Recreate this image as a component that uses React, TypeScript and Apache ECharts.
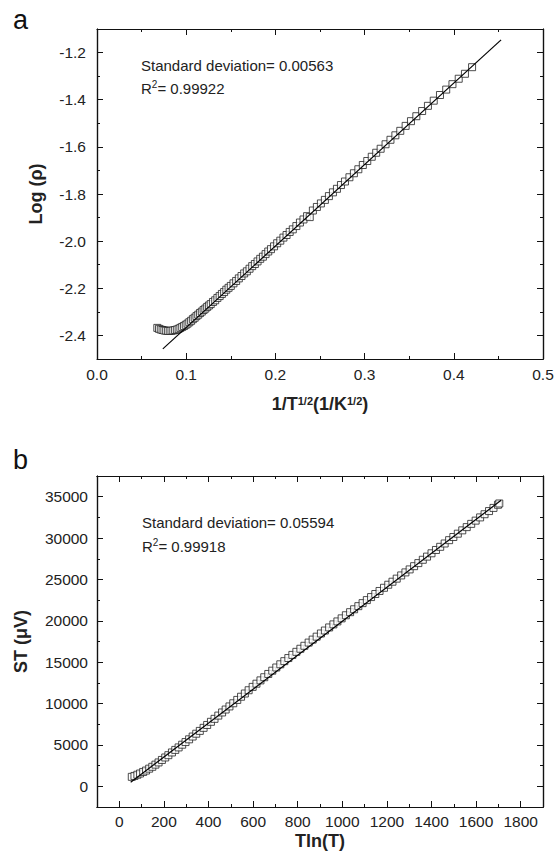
import React, { useEffect, useRef } from "react";
import * as echarts from "echarts";

// ---------- data ----------
const TOP_X = [
  0.0676, 0.0695, 0.0715, 0.0735, 0.0755, 0.0775, 0.0795, 0.0815, 0.0835, 0.0855,
  0.0875, 0.0895, 0.0915, 0.0935, 0.0955, 0.0975, 0.0995, 0.1015, 0.1035, 0.1055,
  0.1075, 0.1095, 0.1115, 0.1135, 0.1155, 0.1175, 0.1195, 0.1215, 0.1235, 0.1255,
  0.1275, 0.13, 0.1325, 0.135, 0.1375, 0.14, 0.1425, 0.145, 0.1475, 0.15,
  0.153, 0.156, 0.159, 0.162, 0.165, 0.168, 0.171, 0.174, 0.177, 0.18,
  0.183, 0.186, 0.189, 0.192, 0.195, 0.1985, 0.202, 0.2055, 0.209, 0.2125,
  0.216, 0.2195, 0.2235, 0.2275, 0.2315, 0.2355, 0.2385, 0.242, 0.2465, 0.251,
  0.2555, 0.26, 0.2645, 0.269, 0.2735, 0.278, 0.283, 0.288, 0.293, 0.298,
  0.303, 0.308, 0.313, 0.318, 0.3235, 0.329, 0.3345, 0.34, 0.346, 0.352,
  0.358, 0.3645, 0.371, 0.3775, 0.3845, 0.3915, 0.3985, 0.4055, 0.4125, 0.4205,
];
const TOP_Y = [
  -2.368, -2.372, -2.375, -2.377, -2.379, -2.38, -2.381, -2.381, -2.38, -2.379,
  -2.377, -2.375, -2.372, -2.368, -2.364, -2.36, -2.355, -2.35, -2.344, -2.338,
  -2.331, -2.325, -2.318, -2.312, -2.305, -2.299, -2.292, -2.286, -2.279, -2.273,
  -2.267, -2.258, -2.251, -2.241, -2.233, -2.224, -2.216, -2.206, -2.198, -2.19,
  -2.179, -2.169, -2.158, -2.148, -2.137, -2.128, -2.117, -2.106, -2.097, -2.086,
  -2.075, -2.066, -2.055, -2.044, -2.034, -2.022, -2.009, -1.998, -1.985, -1.974,
  -1.961, -1.95, -1.936, -1.921, -1.908, -1.894, -1.898, -1.87, -1.855, -1.84,
  -1.825, -1.809, -1.793, -1.778, -1.762, -1.747, -1.729, -1.712, -1.695, -1.677,
  -1.66, -1.642, -1.625, -1.608, -1.589, -1.57, -1.551, -1.532, -1.511, -1.491,
  -1.47, -1.448, -1.426, -1.404, -1.38, -1.357, -1.334, -1.311, -1.29, -1.262,
];
const TOP_FIT_X = [0.0738, 0.453];
const TOP_FIT_Y = [-2.457, -1.146];

const BOT_X = [
  56, 68, 81, 93, 107, 120, 134, 148, 162, 176,
  191, 206, 220, 236, 251, 266, 282, 297, 313, 329,
  345, 361, 378, 394, 411, 427, 444, 461, 477, 494,
  511, 529, 546, 563, 580, 598, 615, 633, 650, 668,
  686, 704, 722, 740, 758, 776, 794, 812, 830, 849,
  867, 885, 904, 922, 941, 960, 978, 997, 1016, 1035,
  1053, 1072, 1091, 1110, 1129, 1148, 1167, 1187, 1206, 1225,
  1244, 1264, 1283, 1302, 1322, 1341, 1361, 1380, 1400, 1420,
  1439, 1459, 1479, 1498, 1518, 1538, 1558, 1578, 1598, 1618,
  1638, 1658, 1678, 1698, 1704,
];
const BOT_Y = [
  1146, 1253, 1401, 1548, 1736, 1904, 2132, 2360, 2619, 2887,
  3186, 3484, 3763, 4092, 4401, 4700, 5029, 5348, 5678, 6017,
  6357, 6696, 7066, 7415, 7795, 8155, 8545, 8925, 9279, 9654,
  10034, 10440, 10825, 11215, 11610, 12016, 12401, 12802, 13182, 13577,
  13973, 14358, 14744, 15124, 15500, 15881, 16251, 16622, 16983, 17369,
  17730, 18085, 18467, 18827, 19198, 19569, 19925, 20296, 20672, 21043,
  21394, 21770, 22136, 22503, 22869, 23240, 23606, 23993, 24359, 24726,
  25097, 25484, 25850, 26211, 26603, 26974, 27376, 27757, 28159, 28561,
  28942, 29344, 29746, 30127, 30529, 30931, 31323, 31715, 32106, 32498,
  32880, 33262, 33644, 34025, 34180,
];
const BOT_FIT_X = [51, 1712];
const BOT_FIT_Y = [483, 34560];

// tick values
const TOP_Y_MAJOR = [-2.4, -2.2, -2.0, -1.8, -1.6, -1.4, -1.2];
const TOP_Y_MINOR = [-2.5, -2.3, -2.1, -1.9, -1.7, -1.5, -1.3, -1.1];
const BOT_X_MAJOR = [0, 200, 400, 600, 800, 1000, 1200, 1400, 1600, 1800];
const BOT_X_MINOR = [-100, 100, 300, 500, 700, 900, 1100, 1300, 1500, 1700, 1900];
const BOT_Y_MAJOR = [0, 5000, 10000, 15000, 20000, 25000, 30000, 35000];
const BOT_Y_MINOR = [-2500, 2500, 7500, 12500, 17500, 22500, 27500, 32500, 37500];

const TOP_SD = "Standard deviation= 0.00563";
const TOP_R2 = "= 0.99922";
const BOT_SD = "Standard deviation= 0.05594";
const BOT_R2 = "= 0.99918";

// ---------- styling ----------
const FONT = "'Liberation Sans', Arial, Helvetica, sans-serif";
const TEXT = "#222";
const AXIS = "#111";
const MAJOR_LEN = 6;
const MINOR_LEN = 3;
const LABEL_SIZE = 15.5;

function axis(o: any) {
  return {
    type: "value",
    gridIndex: o.grid,
    position: o.position,
    min: o.min,
    max: o.max,
    interval: o.interval,
    axisLine: { show: true, onZero: false, lineStyle: { color: AXIS, width: 1.2 } },
    axisTick: {
      show: true,
      inside: true,
      length: o.len ?? MAJOR_LEN,
      customValues: o.ticks,
      lineStyle: { color: AXIS, width: 1 },
    },
    minorTick: o.minor
      ? { show: true, splitNumber: 2, length: MINOR_LEN, lineStyle: { color: AXIS, width: 1 } }
      : { show: false },
    axisLabel: o.labels
      ? {
          show: true,
          customValues: o.labelValues,
          margin: o.margin ?? 7,
          fontSize: LABEL_SIZE,
          fontFamily: FONT,
          color: TEXT,
          formatter: o.formatter,
        }
      : { show: false },
    splitLine: { show: false },
    minorSplitLine: { show: false },
    name: o.name,
    nameLocation: "middle",
    nameGap: o.nameGap,
    nameTextStyle: o.nameStyle,
  };
}

const boldName = {
  fontSize: 18,
  fontWeight: "bold",
  fontFamily: FONT,
  color: TEXT,
};

function r2Text(x: number, y: number, rest: string) {
  return {
    type: "text",
    x,
    y,
    style: {
      text: "{n|R}{s|2}{n|" + rest + "}",
      verticalAlign: "top",
      rich: {
        n: { fontSize: 15, fontFamily: FONT, fill: TEXT, lineHeight: 18 },
        s: { fontSize: 10, fontFamily: FONT, fill: TEXT, verticalAlign: "top", lineHeight: 10 },
      },
    },
  };
}

export default function App() {
  const ref = useRef<HTMLDivElement>(null);

  useEffect(() => {
    if (!ref.current) return;
    const chart = echarts.init(ref.current, undefined, { renderer: "svg" });

    const topData = TOP_X.map((x, i) => [x, TOP_Y[i]]);
    const botData = BOT_X.map((x, i) => [x, BOT_Y[i]]);
    const topFit = TOP_FIT_X.map((x, i) => [x, TOP_FIT_Y[i]]);
    const botFit = BOT_FIT_X.map((x, i) => [x, BOT_FIT_Y[i]]);

    const fmt1 = (v: number) => v.toFixed(1);
    const fmt0 = (v: number) => String(Math.round(v));

    const option: any = {
      animation: false,
      backgroundColor: "#fff",
      grid: [
        { left: 97, top: 29, width: 446, height: 330, outerBoundsMode: "none" },
        { left: 97, top: 476, width: 446, height: 331, outerBoundsMode: "none" },
      ],
      xAxis: [
        axis({
          grid: 0, position: "bottom", min: 0, max: 0.5, interval: 0.1, minor: true,
          labels: true, formatter: fmt1, margin: 7,
          name: "{b|1/T}{s|1/2}{b|(1/K}{s|1/2}{b|)}", nameGap: 36,
          nameStyle: {
            ...boldName,
            rich: {
              b: { ...boldName },
              s: { fontSize: 11, fontWeight: "bold", fontFamily: FONT, color: TEXT, verticalAlign: "top" },
            },
          },
        }),
        axis({ grid: 0, position: "top", min: 0, max: 0.5, interval: 0.1, minor: true }),
        axis({
          grid: 1, position: "bottom", min: -100, max: 1900, ticks: BOT_X_MAJOR,
          labels: true, labelValues: BOT_X_MAJOR, formatter: fmt0, margin: 6,
          name: "Tln(T)", nameGap: 25, nameStyle: boldName,
        }),
        axis({ grid: 1, position: "bottom", min: -100, max: 1900, ticks: BOT_X_MINOR, len: MINOR_LEN }),
        axis({ grid: 1, position: "top", min: -100, max: 1900, ticks: BOT_X_MAJOR }),
        axis({ grid: 1, position: "top", min: -100, max: 1900, ticks: BOT_X_MINOR, len: MINOR_LEN }),
      ],
      yAxis: [
        axis({
          grid: 0, position: "left", min: -2.5, max: -1.1, ticks: TOP_Y_MAJOR,
          labels: true, labelValues: TOP_Y_MAJOR, formatter: fmt1, margin: 11,
          name: "Log (\u03C1)", nameGap: 52, nameStyle: boldName,
        }),
        axis({ grid: 0, position: "left", min: -2.5, max: -1.1, ticks: TOP_Y_MINOR, len: MINOR_LEN }),
        axis({ grid: 0, position: "right", min: -2.5, max: -1.1, ticks: TOP_Y_MAJOR }),
        axis({ grid: 0, position: "right", min: -2.5, max: -1.1, ticks: TOP_Y_MINOR, len: MINOR_LEN }),
        axis({
          grid: 1, position: "left", min: -2500, max: 37500, ticks: BOT_Y_MAJOR,
          labels: true, labelValues: BOT_Y_MAJOR, formatter: fmt0, margin: 9,
          name: "ST (\u03BCV)", nameGap: 67, nameStyle: boldName,
        }),
        axis({ grid: 1, position: "left", min: -2500, max: 37500, ticks: BOT_Y_MINOR, len: MINOR_LEN }),
        axis({ grid: 1, position: "right", min: -2500, max: 37500, ticks: BOT_Y_MAJOR }),
        axis({ grid: 1, position: "right", min: -2500, max: 37500, ticks: BOT_Y_MINOR, len: MINOR_LEN }),
      ],
      series: [
        {
          type: "scatter", xAxisIndex: 0, yAxisIndex: 0, data: topData,
          symbol: "rect", symbolSize: 7, silent: true, z: 2,
          itemStyle: { color: "#fff", borderColor: "#222", borderWidth: 1 },
        },
        {
          type: "line", xAxisIndex: 0, yAxisIndex: 0, data: topFit,
          symbol: "none", showSymbol: false, silent: true, z: 3,
          lineStyle: { color: "#000", width: 1.2 },
        },
        {
          type: "scatter", xAxisIndex: 2, yAxisIndex: 4, data: botData,
          symbol: "rect", symbolSize: 7, silent: true, z: 2,
          itemStyle: { color: "#fff", borderColor: "#222", borderWidth: 1 },
        },
        {
          type: "line", xAxisIndex: 2, yAxisIndex: 4, data: botFit,
          symbol: "none", showSymbol: false, silent: true, z: 3,
          lineStyle: { color: "#000", width: 1.2 },
        },
      ],
      graphic: [
        { type: "text", x: 13, y: 6, style: { text: "a", fontSize: 27, fontFamily: FONT, fill: "#111", verticalAlign: "top" } },
        { type: "text", x: 13, y: 446, style: { text: "b", fontSize: 27, fontFamily: FONT, fill: "#111", verticalAlign: "top" } },
        { type: "text", x: 141, y: 58, style: { text: TOP_SD, fontSize: 15, fontFamily: FONT, fill: TEXT, verticalAlign: "top" } },
        r2Text(141, 79, TOP_R2),
        { type: "text", x: 142, y: 515, style: { text: BOT_SD, fontSize: 15, fontFamily: FONT, fill: TEXT, verticalAlign: "top" } },
        r2Text(142, 537, BOT_R2),
      ],
    };

    chart.setOption(option);
    return () => chart.dispose();
  }, []);

  return (
    <div
      ref={ref}
      style={{ position: "fixed", left: 0, top: 0, width: 560, height: 860, background: "#fff" }}
    />
  );
}
